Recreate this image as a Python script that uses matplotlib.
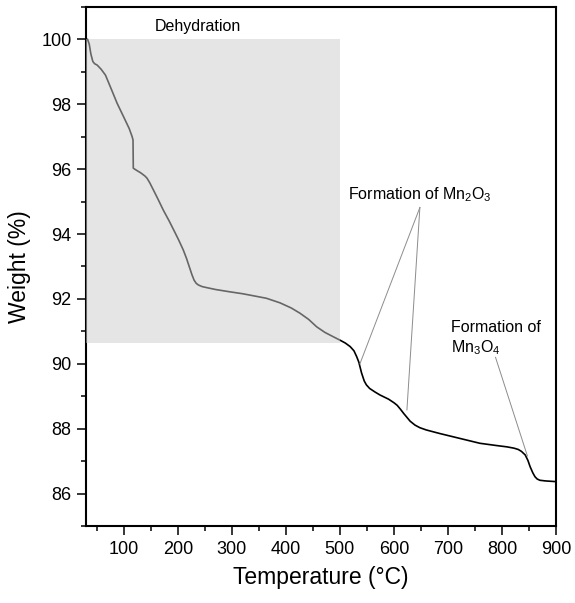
import matplotlib
matplotlib.use("Agg")
import matplotlib.pyplot as plt
from matplotlib.patches import Rectangle
from matplotlib.ticker import MultipleLocator

plt.rcParams['font.family'] = ['Liberation Sans', 'DejaVu Sans']
plt.rcParams['mathtext.fontset'] = 'custom'
plt.rcParams['mathtext.rm'] = 'Liberation Sans'
plt.rcParams['mathtext.it'] = 'Liberation Sans:italic'

temperature = [30, 33, 36, 39, 42.6, 46, 50.6, 58, 66, 76, 87.6, 100, 110, 115.4, 117, 117.5,
               124, 131, 139, 143, 148, 155, 164, 173, 184, 194, 202, 210, 216, 222, 226, 230,
               234, 238, 245, 253, 270, 296, 320, 339, 364, 389, 410, 426, 442, 457, 472, 487,
               500, 510, 519, 526, 531, 535, 540, 545, 549, 555, 565, 574, 590, 600, 606, 612,
               618, 624, 630, 639, 648, 660, 685, 722, 759, 790, 809, 822, 830, 836, 843, 848,
               852, 857, 861, 865, 870, 880, 898, 900]
weight = [100.0, 100.0, 99.85, 99.55, 99.32, 99.25, 99.21, 99.08, 98.9, 98.5, 98.03, 97.6,
          97.25, 97.0, 96.9, 96.03, 95.96, 95.89, 95.79, 95.72, 95.58, 95.35, 95.05, 94.74,
          94.40, 94.07, 93.80, 93.51, 93.25, 92.95, 92.75, 92.58, 92.48, 92.43, 92.38, 92.35,
          92.29, 92.22, 92.16, 92.10, 92.02, 91.88, 91.72, 91.56, 91.37, 91.14, 90.97, 90.84,
          90.73, 90.64, 90.53, 90.40, 90.22, 90.05, 89.72, 89.47, 89.35, 89.24, 89.13, 89.04,
          88.91, 88.80, 88.72, 88.60, 88.47, 88.35, 88.23, 88.11, 88.03, 87.96, 87.85, 87.70,
          87.55, 87.48, 87.44, 87.40, 87.36, 87.30, 87.19, 87.02, 86.83, 86.64, 86.52, 86.45,
          86.41, 86.39, 86.37, 86.36]

dehydration_range = (30, 500)
dehydration_weight = (90.65, 100)

xlim = (30, 900)
ylim = (85, 101)
x_major = 100
y_major = 2

fig = plt.figure(figsize=(5.75, 6.03), dpi=100)
ax = fig.add_axes([0.1496, 0.1277, 0.9670 - 0.1496, 0.9884 - 0.1277])

ax.plot(temperature, weight, color='black', lw=1.2, zorder=2, solid_joinstyle='round')

rect = Rectangle((dehydration_range[0], dehydration_weight[0]),
                 dehydration_range[1] - dehydration_range[0],
                 dehydration_weight[1] - dehydration_weight[0],
                 facecolor=(0.80, 0.80, 0.80), alpha=0.5, edgecolor='none', zorder=3)
ax.add_patch(rect)

ax.text(157, 100.26, 'Dehydration', fontsize=11.5, ha='left', va='baseline')

# Mn2O3 annotation
ax.text(515, 95.07, r'Formation of Mn$_\mathregular{2}$O$_\mathregular{3}$', fontsize=11.5,
        ha='left', va='baseline')
ax.plot([648, 537], [94.82, 90.0], color='#8c8c8c', lw=0.7, zorder=4)
ax.plot([648, 624], [94.82, 88.58], color='#8c8c8c', lw=0.7, zorder=4)

# Mn3O4 annotation
ax.text(705, 90.37, 'Formation of\n' + r'Mn$_\mathregular{3}$O$_\mathregular{4}$', fontsize=11.5,
        ha='left', va='baseline', linespacing=1.2)
ax.plot([788, 847], [90.2, 87.16], color='#8c8c8c', lw=0.7, zorder=4)

ax.set_xlim(*xlim)
ax.set_ylim(*ylim)
ax.xaxis.set_major_locator(MultipleLocator(x_major))
ax.xaxis.set_minor_locator(MultipleLocator(x_major / 2))
ax.yaxis.set_major_locator(MultipleLocator(y_major))
ax.yaxis.set_minor_locator(MultipleLocator(y_major / 2))

ax.tick_params(which='major', direction='out', length=6.5, width=1.1, labelsize=13, pad=4)
ax.tick_params(which='minor', direction='out', length=3.5, width=1.1)
for s in ax.spines.values():
    s.set_linewidth(1.5)

ax.set_xlabel('Temperature (°C)', fontsize=16.5, labelpad=6)
ax.set_ylabel('Weight (%)', fontsize=16.5, labelpad=7)

fig.savefig('out.png', dpi=100)
